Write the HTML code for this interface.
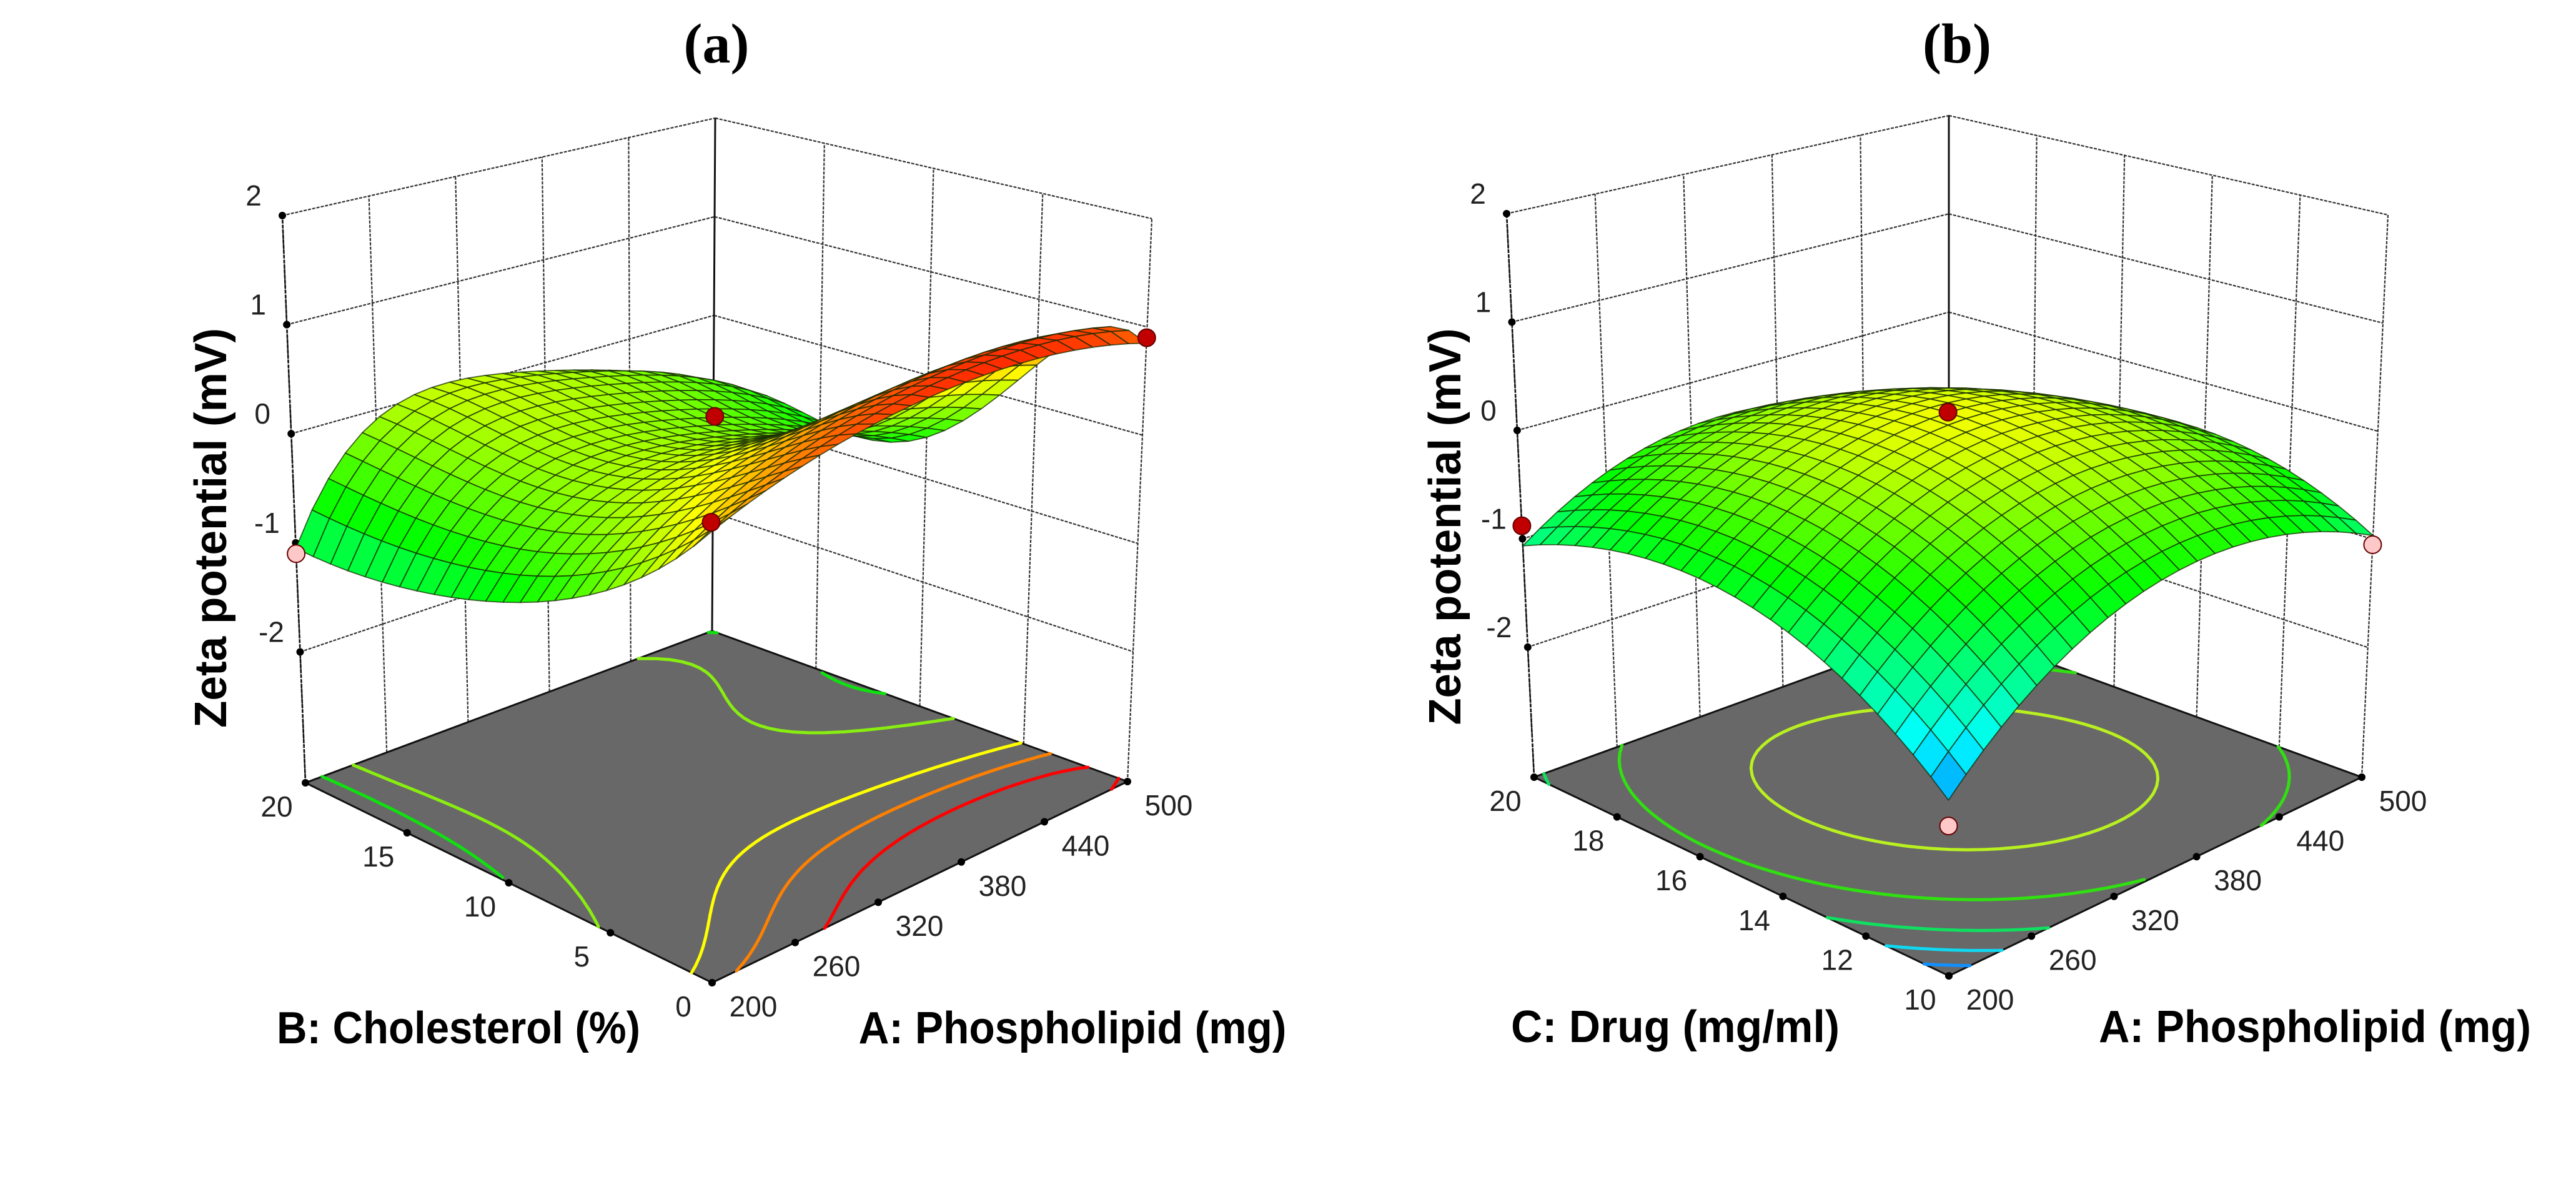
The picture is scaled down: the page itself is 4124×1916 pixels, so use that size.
<!DOCTYPE html>
<html>
<head>
<meta charset="utf-8">
<style>
  html,body{margin:0;padding:0;background:#fff;}
  svg{display:block;}
  .tick{font-family:"Liberation Sans",sans-serif;font-size:46px;fill:#222;}
  .atitle{font-family:"Liberation Sans",sans-serif;font-weight:bold;font-size:72px;fill:#000;}
  .ptitle{font-family:"Liberation Serif",serif;font-weight:bold;font-size:90px;fill:#000;}
</style>
</head>
<body>
<svg id="chart" xmlns="http://www.w3.org/2000/svg" width="4124" height="1916" viewBox="0 0 4124 1916">
  <rect x="0" y="0" width="4124" height="1916" fill="#fff"/>
  <g id="panelA"></g>
  <g id="panelB"></g>
  <text class="ptitle" x="1147" y="100" text-anchor="middle">(a)</text>
  <text class="ptitle" x="3133" y="100" text-anchor="middle">(b)</text>
  <text class="atitle" x="734" y="1670" text-anchor="middle" textLength="582" lengthAdjust="spacingAndGlyphs">B: Cholesterol (%)</text>
  <text class="atitle" x="1717" y="1670" text-anchor="middle" textLength="685" lengthAdjust="spacingAndGlyphs">A: Phospholipid (mg)</text>
  <text class="atitle" x="2682" y="1668" text-anchor="middle" textLength="526" lengthAdjust="spacingAndGlyphs">C: Drug (mg/ml)</text>
  <text class="atitle" x="3706" y="1668" text-anchor="middle" textLength="692" lengthAdjust="spacingAndGlyphs">A: Phospholipid (mg)</text>
  <text class="atitle" transform="translate(362,845) rotate(-90)" text-anchor="middle" textLength="640" lengthAdjust="spacingAndGlyphs">Zeta potential (mV)</text>
  <text class="atitle" transform="translate(2338,843) rotate(-90)" text-anchor="middle" textLength="635" lengthAdjust="spacingAndGlyphs">Zeta potential (mV)</text>
</svg>
<script>
// ---------- data ----------
const phosNodes = [200, 275, 350, 425, 500];
const cholNodes = [0, 5, 10, 15, 20];
const drugNodes = [10, 12.5, 15, 17.5, 20];
// panel (a): rows = cholesterol nodes, cols = phospholipid nodes
const zetaA = [
  [0.56, 0.88, 1.05, 1.06, 0.85],
  [-0.28, 0.33, 0.56, 0.58, 0.38],
  [-0.75, -0.06, 0.0, -0.2, -0.6],
  [-1.0, -0.10, -0.06, -0.3, -0.75],
  [-1.05, 0.0, 0.01, -0.25, -0.78]
];
// panel (b): rows = drug nodes, cols = phospholipid nodes
const zetaB = [
  [-1.735, -0.98, -0.6, -0.595, -0.965],
  [-1.08, -0.384, -0.0625, -0.116, -0.545],
  [-0.75, -0.1125, 0.15, 0.0375, -0.45],
  [-0.745, -0.166, 0.0375, -0.134, -0.68],
  [-1.065, -0.545, -0.4, -0.63, -1.235]
];
const phosTicks = [200, 260, 320, 380, 440, 500];
const cholTicks = [0, 5, 10, 15, 20];
const drugTicks = [10, 12, 14, 16, 18, 20];
const zTicks = [-2, -1, 0, 1, 2];
const contourLevelsA = [-0.75, -0.35, 0.35, 0.65, 0.9];
const contourColorsA = ['#10e010', '#88ee10', '#ffff00', '#ff8000', '#ff0000'];
const contourLevelsB = [-1.55, -1.3, -1.0, -0.6, -0.12];
const contourColorsB = ['#1090ff', '#10d8f0', '#10e060', '#30e010', '#b8f020'];
const ptsA_phos = [200, 500, 200, 350];
const ptsA_chol = [20, 0, 0, 10];
const ptsA_zeta = [-1.1, 0.9, 0.64, 0.27];
const ptsA_fill = ['#ffc8c8', '#c00000', '#c00000', '#c00000'];
const ptsB_phos = [200, 500, 350, 200];
const ptsB_drug = [20, 10, 15, 10];
const ptsB_zeta = [-0.88, -1.05, 0.27, -1.95];
const ptsB_fill = ['#c00000', '#ffc8c8', '#c00000', '#ffc8c8'];

// ---------- helpers ----------
const NS = 'http://www.w3.org/2000/svg';
const ZMIN = -3.2, ZMAX = 2;
const MESH = 24;

function mk(tag, parent) { const e = document.createElementNS(NS, tag); parent.appendChild(e); return e; }
function lagrange(nodes, t) {
  const xs = [0, 0.25, 0.5, 0.75, 1]; let s = 0;
  for (let i = 0; i < 5; i++) { let p = 1; for (let j = 0; j < 5; j++) if (j !== i) p *= (t - xs[j]) / (xs[i] - xs[j]); s += nodes[i] * p; }
  return s;
}
function surfZ(grid, u, v) {
  const col = []; for (let r = 0; r < 5; r++) col.push(lagrange(grid[r], u));
  return lagrange(col, v);
}
function cmap(t) {
  t = Math.max(0, Math.min(1, t));
  const stops = [[0, 0, 0, 255], [0.25, 0, 255, 255], [0.5, 0, 255, 0], [0.75, 255, 255, 0], [1, 255, 0, 0]];
  for (let i = 0; i < 4; i++) { const a = stops[i], b = stops[i + 1]; if (t <= b[0]) { const k = (t - a[0]) / (b[0] - a[0]);
    return 'rgb(' + Math.round(a[1] + k * (b[1] - a[1])) + ',' + Math.round(a[2] + k * (b[2] - a[2])) + ',' + Math.round(a[3] + k * (b[3] - a[3])) + ')'; } }
  return 'rgb(255,0,0)';
}
function makeProj(G) {
  return function (u, v, z) {
    const w = (z - ZMIN) / (ZMAX - ZMIN);
    const bil = (a, b, c, d, k) => (1 - u) * (1 - v) * a[k] + u * (1 - v) * b[k] + (1 - u) * v * c[k] + u * v * d[k];
    const bx = bil(G.F, G.R, G.L, G.B, 0), by = bil(G.F, G.R, G.L, G.B, 1);
    const tx = bil(G.Ft, G.Rt, G.Lt, G.Bt, 0), ty = bil(G.Ft, G.Rt, G.Lt, G.Bt, 1);
    return [bx + w * (tx - bx), by + w * (ty - by)];
  };
}
function line(g, p, q, stroke, sw, dash) {
  const l = mk('line', g);
  l.setAttribute('x1', p[0].toFixed(1)); l.setAttribute('y1', p[1].toFixed(1));
  l.setAttribute('x2', q[0].toFixed(1)); l.setAttribute('y2', q[1].toFixed(1));
  l.setAttribute('stroke', stroke); l.setAttribute('stroke-width', sw);
  if (dash) l.setAttribute('stroke-dasharray', dash);
  return l;
}

function drawPanel(cfg) {
  const g = document.getElementById(cfg.id);
  const P = makeProj(cfg.geo);
  const uScale = x => (x - 200) / 300;
  const vScale = y => (y - cfg.vMin) / (cfg.vMax - cfg.vMin);

  const gw = mk('g', g);
  
  
  const wc = '#333', ws = 2.2, wd = '5,2';
  zTicks.forEach(z => {
    const a = line(gw, P(0, 1, z), P(1, 1, z), wc, ws, wd);
    
    
    const b = line(gw, P(1, 1, z), P(1, 0, z), wc, ws, wd);
    
    
  });
  cfg.uTicks.forEach(t => {
    const u = uScale(t);
    const a = line(gw, P(u, 1, ZMIN), P(u, 1, ZMAX), wc, ws, wd);
    
    
  });
  cfg.vTicks.forEach(t => {
    const v = vScale(t);
    const a = line(gw, P(1, v, ZMIN), P(1, v, ZMAX), wc, ws, wd);
    
    
  });
  const lv = line(gw, P(0, 1, ZMIN), P(0, 1, ZMAX), '#111', 2.6, '6,2');
  
  
  const bv = line(gw, P(1, 1, ZMIN), P(1, 1, ZMAX), '#111', 3, null);
  
  

  const f0 = P(0, 0, ZMIN), f1 = P(1, 0, ZMIN), f2 = P(1, 1, ZMIN), f3 = P(0, 1, ZMIN);
  const floor = mk('polygon', g);
  floor.setAttribute('points', [f0, f1, f2, f3].map(p => p[0].toFixed(1) + ',' + p[1].toFixed(1)).join(' '));
  floor.setAttribute('fill', '#686868');
  floor.setAttribute('stroke', '#111');
  floor.setAttribute('stroke-width', '3');
  
  

  const gc = mk('g', g);
  
  
  const N = 48;
  const Zf = [];
  for (let j = 0; j <= N; j++) { Zf.push([]); for (let i = 0; i <= N; i++) Zf[j].push(surfZ(cfg.grid, i / N, j / N)); }
  cfg.levels.forEach((L, li) => {
    let d = '';
    for (let j = 0; j < N; j++) for (let i = 0; i < N; i++) {
      const c = [[i, j], [i + 1, j], [i + 1, j + 1], [i, j + 1]];
      const pts = [];
      for (let e = 0; e < 4; e++) {
        const a = c[e], b = c[(e + 1) % 4];
        const za = Zf[a[1]][a[0]], zb = Zf[b[1]][b[0]];
        if ((za - L) * (zb - L) < 0) {
          const k = (L - za) / (zb - za);
          pts.push([(a[0] + k * (b[0] - a[0])) / N, (a[1] + k * (b[1] - a[1])) / N]);
        }
      }
      for (let p = 0; p + 1 < pts.length; p += 2) {
        const A = P(pts[p][0], pts[p][1], ZMIN), B = P(pts[p + 1][0], pts[p + 1][1], ZMIN);
        d += 'M' + A[0].toFixed(1) + ',' + A[1].toFixed(1) + 'L' + B[0].toFixed(1) + ',' + B[1].toFixed(1);
      }
    }
    const path = mk('path', gc);
    path.setAttribute('d', d);
    path.setAttribute('stroke', cfg.levelColors[li]);
    path.setAttribute('stroke-width', '5');
    path.setAttribute('stroke-linecap', 'round');
    path.setAttribute('fill', 'none');
    
    
  });

  const gt = mk('g', g);
  
  
  cfg.uTicks.forEach(t => {
    const p = P(uScale(t), 0, ZMIN);
    const c = mk('circle', gt);
    c.setAttribute('cx', p[0]); c.setAttribute('cy', p[1]); c.setAttribute('r', 6); c.setAttribute('fill', '#000');
    
    
    const tx = mk('text', gt);
    tx.setAttribute('class', 'tick'); tx.setAttribute('x', p[0] + 66); tx.setAttribute('y', p[1] + 54); tx.setAttribute('text-anchor', 'middle');
    tx.textContent = t;
    
    
  });
  cfg.vTicks.forEach(t => {
    const p = P(0, vScale(t), ZMIN);
    const c = mk('circle', gt);
    c.setAttribute('cx', p[0]); c.setAttribute('cy', p[1]); c.setAttribute('r', 6); c.setAttribute('fill', '#000');
    
    
    const tx = mk('text', gt);
    tx.setAttribute('class', 'tick'); tx.setAttribute('x', p[0] - 46); tx.setAttribute('y', p[1] + 54); tx.setAttribute('text-anchor', 'middle');
    tx.textContent = t;
    
    
  });
  zTicks.forEach(z => {
    const p = P(0, 1, z);
    const c = mk('circle', gt);
    c.setAttribute('cx', p[0]); c.setAttribute('cy', p[1]); c.setAttribute('r', 6); c.setAttribute('fill', '#000');
    
    
    const tx = mk('text', gt);
    tx.setAttribute('class', 'tick'); tx.setAttribute('x', p[0] - 46); tx.setAttribute('y', p[1] - 16); tx.setAttribute('text-anchor', 'middle');
    tx.textContent = z;
    
    
  });

  const gs = mk('g', g);
  
  
  const Zs = [];
  for (let j = 0; j <= MESH; j++) { Zs.push([]); for (let i = 0; i <= MESH; i++) Zs[j].push(surfZ(cfg.grid, i / MESH, j / MESH)); }
  const quads = [];
  for (let j = 0; j < MESH; j++) for (let i = 0; i < MESH; i++) quads.push([i, j]);
  quads.sort((a, b) => (b[0] + b[1]) - (a[0] + a[1]));
  quads.forEach(q => {
    const [i, j] = q;
    const cs = [[i, j], [i + 1, j], [i + 1, j + 1], [i, j + 1]];
    let zs = 0;
    const pts = cs.map(c => { const z = Zs[c[1]][c[0]]; zs += z; const p = P(c[0] / MESH, c[1] / MESH, z); return p[0].toFixed(1) + ',' + p[1].toFixed(1); });
    const poly = mk('polygon', gs);
    poly.setAttribute('points', pts.join(' '));
    poly.setAttribute('fill', cmap((zs / 4 - cfg.cLo) / (cfg.cHi - cfg.cLo)));
    poly.setAttribute('stroke', 'rgba(20,40,0,0.75)');
    poly.setAttribute('stroke-width', '1.8');
    poly.setAttribute('stroke-linejoin', 'round');
    
    
  });

  const gp = mk('g', g);
  
  
  cfg.px.forEach((x, k) => {
    const u = uScale(x), v = vScale(cfg.py[k]);
    const p = P(u, v, cfg.pz[k]);
    const sz = surfZ(cfg.grid, u, v);
    if (cfg.pz[k] < sz - 0.3) {
      const s = P(u, v, sz);
      const st = line(gp, s, p, '#111', 3, null);
      
      
    }
    const c = mk('circle', gp);
    c.setAttribute('cx', p[0].toFixed(1)); c.setAttribute('cy', p[1].toFixed(1)); c.setAttribute('r', 14);
    c.setAttribute('fill', cfg.pfill[k]); c.setAttribute('stroke', '#600'); c.setAttribute('stroke-width', 2);
    
    
  });
}

drawPanel({
  id: 'panelA',
  geo: { F: [1140, 1573], R: [1805, 1251], L: [489, 1253], B: [1140, 1010], Ft: [1138, 575], Rt: [1844, 350], Lt: [452, 345], Bt: [1145, 189] },
  vMin: 0, vMax: 20, grid: zetaA, uTicks: phosTicks, vTicks: cholTicks,
  levels: contourLevelsA, levelColors: contourColorsA, cLo: -2.6, cHi: 1.25,
  px: ptsA_phos, py: ptsA_chol, pz: ptsA_zeta, pfill: ptsA_fill
});
drawPanel({
  id: 'panelB',
  geo: { F: [3120, 1562], R: [3781, 1244], L: [2456, 1244], B: [3120, 1003], Ft: [3118, 564], Rt: [3823, 344], Lt: [2412, 342], Bt: [3120, 185] },
  vMin: 10, vMax: 20, grid: zetaB, uTicks: phosTicks, vTicks: drugTicks,
  levels: contourLevelsB, levelColors: contourColorsB, cLo: -2.18, cHi: 1.0,
  px: ptsB_phos, py: ptsB_drug, pz: ptsB_zeta, pfill: ptsB_fill
});
</script>
</body>
</html>
